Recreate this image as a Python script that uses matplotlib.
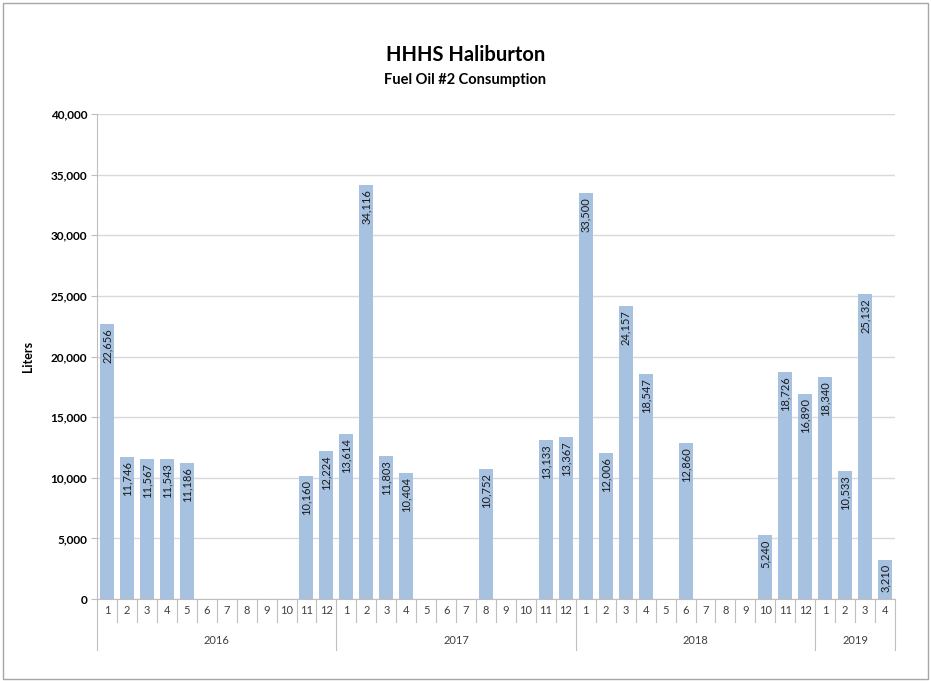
import matplotlib
matplotlib.use("Agg")
import matplotlib.pyplot as plt
from matplotlib.patches import Rectangle
import matplotlib.transforms as mtransforms
import numpy as np

plt.rcParams['font.family'] = ['Lato', 'DejaVu Sans']

years = ["2016", "2017", "2018", "2019"]
months_per_year = [12, 12, 12, 4]
values = [
    22656, 11746, 11567, 11543, 11186, None, None, None, None, None, 10160, 12224,
    13614, 34116, 11803, 10404, None, None, None, 10752, None, None, 13133, 13367,
    33500, 12006, 24157, 18547, None, 12860, None, None, None, 5240, 18726, 16890,
    18340, 10533, 25132, 3210,
]
month_labels = [str(m + 1) for n in months_per_year for m in range(n)]

bar_color = "#A7C1E0"
grid_color = "#D9D9D9"
axis_color = "#BFBFBF"

fig = plt.figure(figsize=(9.31, 6.81), dpi=100)
fig.patches.append(Rectangle((0.003, 0.003), 0.994, 0.993, transform=fig.transFigure,
                             fill=False, edgecolor="#A6A6A6", linewidth=1.0))
ax = fig.add_axes([97/931, 1-599/681, (895-97)/931, (599-114)/681])

x = np.arange(len(values))
for xi, v in zip(x, values):
    if v is None:
        continue
    ax.bar(xi, v, width=0.7, color=bar_color, zorder=2)
    ax.annotate(f"{v:,}", xy=(xi, v), xytext=(0, -3), textcoords="offset points",
                rotation=90, ha="center", va="top", fontsize=8, color="#1a1a1a", zorder=3)

ax.set_xlim(-0.5, len(values) - 0.5)
ax.set_ylim(0, 40000)
ax.set_yticks(np.arange(0, 40001, 5000))
ax.set_yticklabels([f"{int(t):,}" for t in np.arange(0, 40001, 5000)],
                   fontsize=8.5, fontweight="bold")
ax.yaxis.grid(True, color=grid_color, linewidth=1.0, zorder=0)
ax.set_axisbelow(True)
ax.tick_params(axis="y", length=4, color=axis_color, pad=3)
ax.set_xticks([])
for s in ["top", "right"]:
    ax.spines[s].set_visible(False)
ax.spines["left"].set_color(axis_color)
ax.spines["bottom"].set_color(axis_color)

ax.set_ylabel("Liters", fontsize=9, fontweight="bold", labelpad=12)

# Multi-level category axis
trans = mtransforms.blended_transform_factory(ax.transData, ax.transAxes)
px = 1 / (599 - 114)
for xi, lab in zip(x, month_labels):
    ax.text(xi, -11 * px, lab, transform=trans, ha="center", va="center",
            fontsize=8, color="#404040")
boundaries = np.cumsum([0] + months_per_year) - 0.5
for b in np.arange(-0.5, len(values), 1.0):
    is_year = np.any(np.isclose(boundaries, b))
    length = 51 if is_year else 23
    ax.plot([b, b], [0, -length * px], transform=trans, color=axis_color,
            linewidth=0.8, clip_on=False)
for i, y in enumerate(years):
    mid = (boundaries[i] + boundaries[i + 1]) / 2
    ax.text(mid, -41 * px, y, transform=trans, ha="center", va="center",
            fontsize=8, color="#404040")

fig.text(0.5, 1 - 55/681, "HHHS Haliburton", ha="center", va="center",
         fontsize=14.5, fontweight="bold", color="#000000")
fig.text(0.5, 1 - 80/681, "Fuel Oil #2 Consumption", ha="center", va="center",
         fontsize=10.5, fontweight="bold", color="#000000")

fig.savefig("out.png", dpi=100)
